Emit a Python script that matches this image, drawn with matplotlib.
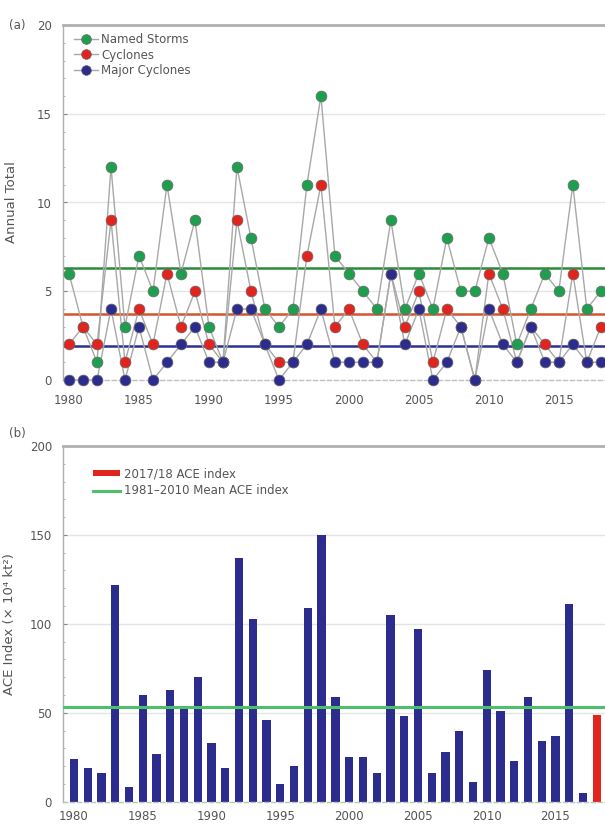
import matplotlib
matplotlib.use("Agg")
import matplotlib.pyplot as plt
from matplotlib.lines import Line2D
from matplotlib.patches import Patch
import numpy as np

years = list(range(1980, 2019))
named_storms = [6, 3, 1, 12, 3, 7, 5, 11, 6, 9, 3, 1, 12, 8, 4, 3, 4, 11, 16, 7,
                6, 5, 4, 9, 4, 6, 4, 8, 5, 5, 8, 6, 2, 4, 6, 5, 11, 4, 5]
cyclones = [2, 3, 2, 9, 1, 4, 2, 6, 3, 5, 2, 1, 9, 5, 2, 1, 1, 7, 11, 3,
            4, 2, 1, 6, 3, 5, 1, 4, 3, 0, 6, 4, 1, 3, 2, 1, 6, 1, 3]
major_cyclones = [0, 0, 0, 4, 0, 3, 0, 1, 2, 3, 1, 1, 4, 4, 2, 0, 1, 2, 4, 1,
                  1, 1, 1, 6, 2, 4, 0, 1, 3, 0, 4, 2, 1, 3, 1, 1, 2, 1, 1]
mean_named, mean_cyc, mean_major = 6.3, 3.7, 1.9

ace = [24, 19, 16, 122, 8, 60, 27, 63, 52, 70, 33, 19, 137, 103, 46, 10, 20, 109,
       150, 59, 25, 25, 16, 105, 48, 97, 16, 28, 40, 11, 74, 51, 23, 59, 34, 37,
       111, 5, 49]
ace_mean = 53
current_season = 2018

xticks = [1980, 1985, 1990, 1995, 2000, 2005, 2010, 2015]

GREEN = "#1e9e4e"
RED = "#e0241e"
NAVY = "#2c2c8e"
TXT = "#555555"

plt.rcParams['font.family'] = ['DejaVu Sans']
fig = plt.figure(figsize=(6.05, 8.27), dpi=100)

W, H = 605, 827
def ax_rect(l, t, r, b):
    return [l / W, 1 - b / H, (r - l) / W, (b - t) / H]

# ---------- panel (a) ----------
ax1 = fig.add_axes(ax_rect(63, 25, 605, 380))
ax1.set_xlim(1979.57, 2018.3)
ax1.set_ylim(0, 20)
for v in [5, 10, 15]:
    ax1.axhline(v, color="#e4e4e4", lw=1.0, zorder=0)
ax1.axhline(mean_named, color="#2a8a3c", lw=1.8, zorder=1)
ax1.axhline(mean_cyc, color="#d4542e", lw=1.8, zorder=1)
ax1.axhline(mean_major, color="#2e2e92", lw=1.8, zorder=1)

series = [(named_storms, GREEN, "Named Storms"),
          (cyclones, RED, "Cyclones"),
          (major_cyclones, NAVY, "Major Cyclones")]
for vals, col, lab in series:
    ax1.plot(years, vals, color="#a8a8a8", lw=1.0, zorder=2, clip_on=False)
for vals, col, lab in series:
    ax1.plot(years, vals, ls="none", marker="o", ms=7.8, mfc=col,
             mec="#6a6a6a", mew=0.5, zorder=3, clip_on=False)

handles = [Line2D([], [], color="#a8a8a8", lw=1.0, marker="o", ms=7,
                  mfc=c, mec="#6a6a6a", mew=0.5) for _, c, _ in series]
leg = ax1.legend(handles, [s[2] for s in series], loc="upper left",
                 bbox_to_anchor=(0.005, 1.0), frameon=False, fontsize=8.5,
                 handlelength=2.0, handletextpad=0.3, labelspacing=0.2,
                 borderaxespad=0.3)
for t in leg.get_texts():
    t.set_color(TXT)

ax1.set_yticks([0, 5, 10, 15, 20])
ax1.set_yticks(np.arange(0, 20.1, 1), minor=True)
ax1.set_xticks(xticks)
ax1.set_ylabel("Annual Total", fontsize=9.5, color=TXT, labelpad=14)
ax1.text(-0.1, 1.0, "(a)", transform=ax1.transAxes, fontsize=8.5,
         color=TXT, ha="left", va="center")

# ---------- panel (b) ----------
ax2 = fig.add_axes(ax_rect(63, 446, 605, 801.7))
ax2.set_xlim(1979.2, 2018.6)
ax2.set_ylim(0, 200)
for v in [50, 100, 150]:
    ax2.axhline(v, color="#e4e4e4", lw=1.0, zorder=0)
bar_colors = [RED if y == current_season else NAVY for y in years]
ax2.bar(years, ace, width=0.6, color=bar_colors, zorder=2)
ax2.axhline(ace_mean, color="#4cc06a", lw=2.2, zorder=3)

h2 = [Patch(facecolor=RED, edgecolor="none"),
      Line2D([], [], color="#4cc06a", lw=2.2)]
leg2 = ax2.legend(h2, ["2017/18 ACE index", "1981\u20132010 Mean ACE index"],
                  loc="upper left", bbox_to_anchor=(0.035, 0.97),
                  frameon=False, fontsize=8.5, handlelength=2.3,
                  handleheight=0.5, handletextpad=0.4, labelspacing=0.35)
for t in leg2.get_texts():
    t.set_color(TXT)

ax2.set_yticks([0, 50, 100, 150, 200])
ax2.set_yticks(np.arange(0, 201, 10), minor=True)
ax2.set_xticks(xticks)
ax2.set_ylabel("ACE Index (\u00d7 10\u2074 kt\u00b2)", fontsize=9.5,
               color=TXT, labelpad=10)
ax2.text(-0.1, 1.035, "(b)", transform=ax2.transAxes, fontsize=8.5,
         color=TXT, ha="left", va="center")

for ax, xpad in ((ax1, 10), (ax2, 6)):
    ax.tick_params(axis="both", which="major", labelsize=8.5, labelcolor=TXT,
                   color="#888888", direction="in", length=3, width=0.8)
    ax.tick_params(axis="y", which="major", pad=8)
    ax.tick_params(axis="y", which="minor", color="#aaaaaa",
                   direction="in", length=1.5, width=0.6)
    ax.tick_params(axis="x", which="major", length=0, pad=xpad)
    ax.spines["top"].set_color("#b0b0b0")
    ax.spines["top"].set_linewidth(2.0)
    ax.spines["left"].set_color("#b0b0b0")
    ax.spines["left"].set_linewidth(1.0)
    ax.spines["right"].set_visible(False)
    ax.spines["bottom"].set_color("#c0c0c0")
    ax.spines["bottom"].set_linewidth(1.0)
    ax.spines["bottom"].set_linestyle((0, (3, 2)))

fig.savefig("out.png", dpi=100)
